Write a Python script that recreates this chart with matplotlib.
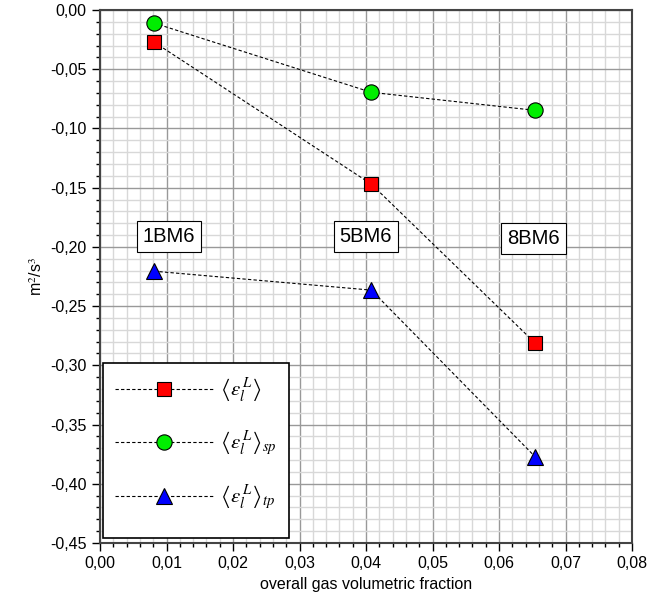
import matplotlib
matplotlib.use("Agg")
import matplotlib.pyplot as plt
from matplotlib.patches import Rectangle
from matplotlib.ticker import MultipleLocator, FuncFormatter

plt.rcParams['font.family'] = ['Liberation Sans', 'DejaVu Sans']
plt.rcParams['mathtext.fontset'] = 'stix'

# data
gas_frac = [0.0081, 0.0408, 0.0654]
eps_total = [-0.027, -0.147, -0.281]
eps_sp = [-0.011, -0.0695, -0.0847]
eps_tp = [-0.2205, -0.2365, -0.377]
case_names = ['1BM6', '5BM6', '8BM6']
case_x = [0.0104, 0.0400, 0.0652]
case_y = [-0.1915, -0.1915, -0.193]

fig = plt.figure(figsize=(6.52, 6.09), dpi=100)
ax = fig.add_axes([100/652, 1-543/609, 532/652, 533/609])

dash = dict(color='black', lw=0.8, ls=(0, (3, 2)), markeredgecolor='black', markeredgewidth=0.8)
ax.plot(gas_frac, eps_total, marker='s', ms=10, markerfacecolor='red',
        label=r'$\left\langle \varepsilon_l^{\,L} \right\rangle$', **dash)
ax.plot(gas_frac, eps_sp, marker='o', ms=11, markerfacecolor='#00ee00',
        label=r'$\left\langle \varepsilon_l^{\,L} \right\rangle_{sp}$', **dash)
ax.plot(gas_frac, eps_tp, marker='^', ms=12, markerfacecolor='blue',
        label=r'$\left\langle \varepsilon_l^{\,L} \right\rangle_{tp}$', **dash)

for name, x, y in zip(case_names, case_x, case_y):
    ax.text(x, y, name, fontsize=14.5, ha='center', va='center', zorder=5,
            bbox=dict(boxstyle='square,pad=0.3', fc='white', ec='black', lw=0.8))

ax.set_xlim(0, 0.08)
ax.set_ylim(-0.45, 0.0)
ax.xaxis.set_major_locator(MultipleLocator(0.01))
ax.xaxis.set_minor_locator(MultipleLocator(0.002))
ax.yaxis.set_major_locator(MultipleLocator(0.05))
ax.yaxis.set_minor_locator(MultipleLocator(0.01))
fmt = FuncFormatter(lambda v, p: ('%.2f' % v).replace('.', ',').replace('-0,00', '0,00'))
ax.xaxis.set_major_formatter(fmt)
ax.yaxis.set_major_formatter(fmt)

ax.grid(True, which='major', color='#999999', lw=1.0)
ax.grid(True, which='minor', color='#d8d8d8', lw=1.0)
ax.set_axisbelow(True)
ax.tick_params(which='both', direction='out', labelsize=11.5, top=False, right=False)
ax.tick_params(which='major', length=6, width=1.0)
ax.tick_params(which='minor', length=3, width=1.0)
for s in ax.spines.values():
    s.set_color('#444444')
    s.set_linewidth(1.5)

ax.set_xlabel('overall gas volumetric fraction', fontsize=11.5)
ax.set_ylabel('m$^2$/s$^3$', fontsize=11.5)

# legend box drawn by hand so the bottom margin matches
ax.add_patch(Rectangle((0.0056, 0.0094), 0.3496, 0.3283, transform=ax.transAxes,
                       fc='white', ec='black', lw=1.2, zorder=4.5))
leg = ax.legend(loc='upper left', bbox_to_anchor=(0.0056, 0.3358), fontsize=15,
                frameon=False, handlelength=4.7, handletextpad=0.3, borderpad=0.6,
                labelspacing=1.25, borderaxespad=0)

fig.savefig('out.png', dpi=100)
